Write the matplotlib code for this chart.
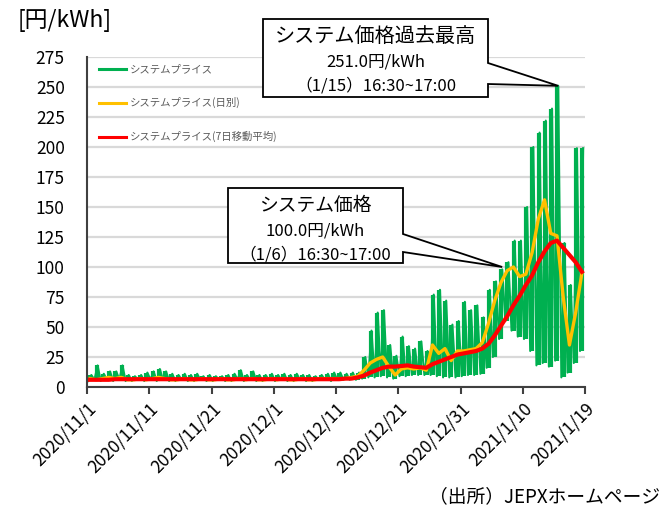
import numpy as np
import matplotlib
matplotlib.use("Agg")
import matplotlib.pyplot as plt
from matplotlib.patches import Polygon

plt.rcParams['font.family'] = ['Noto Sans CJK JP', 'DejaVu Sans']

# days since 2020/11/1 (0..79)
days = np.arange(80)

# half-hourly system price, read as daily low / daily high (yen/kWh)
price_low = [5, 6, 5, 6, 5, 6, 5, 5, 6, 5, 6, 5, 6, 5, 5, 6, 5, 5, 6, 5,
             5, 6, 5, 5, 6, 5, 6, 5, 5, 6, 5, 6, 5, 5, 6, 5, 5, 6, 6, 5,
             6, 6, 6, 6, 7, 8, 8, 9, 8, 7, 9, 9, 10, 10, 10, 10, 9, 8, 8, 8,
             9, 10, 10, 11, 16, 25, 40, 55, 47, 42, 40, 30, 18, 20, 17, 22, 8, 12, 20, 30]
price_high = [10, 18, 11, 13, 13, 18, 10, 9, 10, 12, 13, 15, 13, 11, 10, 11, 10, 11, 9, 10,
              9, 9, 10, 11, 14, 10, 13, 10, 10, 11, 10, 11, 10, 11, 10, 10, 9, 10, 11, 12,
              12, 11, 12, 12, 25, 47, 62, 64, 35, 26, 42, 34, 32, 38, 30, 77, 81, 72, 52, 55,
              71, 64, 68, 58, 81, 88, 98, 104, 122, 122, 150, 200, 212, 222, 232, 251, 120, 85, 199, 199]

# daily average
daily_avg = [7, 6, 7, 8, 7, 8, 6, 6, 7, 6, 7, 8, 7, 6, 6, 7, 6, 6, 7, 6,
             6, 7, 6, 6, 7, 6, 7, 6, 6, 7, 6, 7, 6, 6, 7, 6, 6, 7, 7, 7,
             7, 7, 8, 9, 14, 20, 23, 25, 17, 10, 15, 16, 15, 16, 14, 35, 28, 32, 22, 30,
             30, 31, 32, 37, 53, 72, 87, 97, 100, 92, 94, 112, 140, 156, 128, 126, 75, 35, 62, 95]

# 7-day moving average
ma7 = [6, 6, 6, 6, 6.5, 6.5, 6.5, 6.5, 6.5, 6.5, 6.5, 6.5, 6.5, 6.5, 6.5, 6.5, 6.5, 6.5, 6.5, 6.5,
       6.5, 6.5, 6.5, 6.5, 6.5, 6.5, 6.5, 6.5, 6.5, 6.5, 6.5, 6.5, 6.5, 6.5, 6.5, 6.5, 6.5, 6.5, 6.5, 6.5,
       6.5, 7, 7, 8, 9.5, 12, 14, 16, 17, 17, 17.5, 18, 17, 16.5, 16, 19, 21, 23, 25, 27,
       28, 29, 30, 32, 36, 43, 51, 59, 68, 76, 85, 93, 104, 113, 120, 122, 116, 110, 104, 96]

tick_labels = ['2020/11/1', '2020/11/11', '2020/11/21', '2020/12/1', '2020/12/11',
               '2020/12/21', '2020/12/31', '2021/1/10', '2021/1/19']
tick_pos = np.arange(0, 81, 10)

peak1 = (75.69, 251.0)   # 1/15 16:30-17:00
peak2 = (66.69, 100.0)   # 1/6 16:30-17:00

green = '#00B050'
yellow = '#FFC000'
red = '#FF0000'

W, H = 670, 524
fig = plt.figure(figsize=(W / 100, H / 100), dpi=100)
ax = fig.add_axes([87 / W, 1 - 387 / H, (585 - 87) / W, (387 - 57) / H])

# green: daily range strokes + zigzag (low in the morning, high in the evening)
ax.vlines(days + 0.55, price_low, price_high, color=green, lw=3.0, zorder=2)
gx = np.column_stack([days + 0.2, days + 0.7]).ravel()
gy = np.column_stack([price_low, price_high]).ravel()
ax.plot(gx, gy, color=green, lw=1.5, label='システムプライス', zorder=2)
ax.plot(days + 0.5, daily_avg, color=yellow, lw=2.4, label='システムプライス(日別)', zorder=3)
ax.plot(days + 0.5, ma7, color=red, lw=3.0, label='システムプライス(7日移動平均)', zorder=4)

ax.set_xlim(0, 80)
ax.set_ylim(0, 275)
ax.set_yticks(np.arange(0, 276, 25))
ax.set_xticks(tick_pos)
ax.set_xticklabels(tick_labels, rotation=45, ha='right', rotation_mode='anchor', fontsize=12.5)
ax.tick_params(axis='y', length=0, labelsize=12.5, pad=16)
ax.tick_params(axis='x', length=5, width=1.5, color='#404040', pad=4)
ax.grid(axis='y', color='#D9D9D9', lw=1.6)
ax.set_axisbelow(True)
for s in ['top', 'right']:
    ax.spines[s].set_visible(False)
for s in ['left', 'bottom']:
    ax.spines[s].set_color('#404040')
    ax.spines[s].set_linewidth(1.5)

leg = ax.legend(loc='upper left', frameon=False, fontsize=7.5, labelspacing=2.2,
                handlelength=2.6, handletextpad=0.3, borderaxespad=0.3,
                bbox_to_anchor=(0.01, 1.0))
for t in leg.get_texts():
    t.set_color('#595959')
for h in leg.get_lines():
    h.set_linewidth(2.2)

fig.text(18 / W, 1 - 20 / H, '[円/kWh]', fontsize=16.5, va='center', ha='left')
fig.text(660 / W, 1 - 497 / H, '（出所）JEPXホームページ', fontsize=13.5, va='center', ha='right')


def callout(box, wedge, tip, lines, sizes, ys):
    x0, y0, x1, y1 = box
    tx, ty = fig.transFigure.inverted().transform(ax.transData.transform(tip))
    f = lambda x, y: (x / W, 1 - y / H)
    verts = [f(x0, y0), f(x1, y0), f(x1, wedge[0]), (tx, ty), f(x1, wedge[1]), f(x1, y1), f(x0, y1)]
    fig.add_artist(Polygon(verts, closed=True, facecolor='white', edgecolor='black',
                           lw=1.3, transform=fig.transFigure, zorder=5))
    xc = (x0 + x1) / 2
    for s, fs, y in zip(lines, sizes, ys):
        fig.text(xc / W, 1 - y / H, s, fontsize=fs, ha='center', va='center', zorder=6)


callout((263, 19, 488, 97), (63, 84), peak1,
        ['システム価格過去最高', '251.0円/kWh', '（1/15）16:30~17:00'],
        [14.5, 12, 12], [37, 62, 86])
callout((228, 188, 403, 263), (234, 252), peak2,
        ['システム価格', '100.0円/kWh', '（1/6）16:30~17:00'],
        [13.5, 12, 12], [205, 231, 255])

fig.savefig('out.png', dpi=100)
